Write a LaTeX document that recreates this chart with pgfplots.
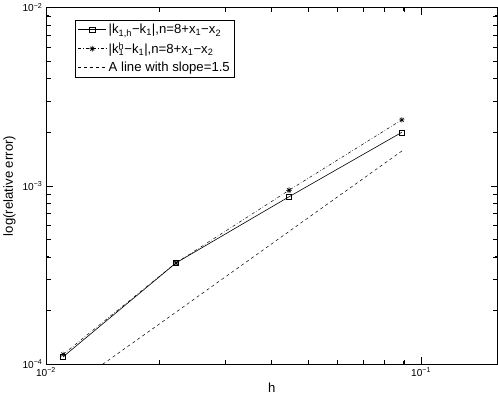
\documentclass[border=0pt]{standalone}
\usepackage{pgfplots}
\pgfplotsset{compat=1.18}
\usepackage{fontspec}
\setmainfont{Liberation Sans}
% MATLAB-like '*' marker: a plus and a cross
\pgfdeclareplotmark{mstar}{%
  \pgfpathmoveto{\pgfqpoint{-\pgfplotmarksize}{0pt}}\pgfpathlineto{\pgfqpoint{\pgfplotmarksize}{0pt}}%
  \pgfpathmoveto{\pgfqpoint{0pt}{-\pgfplotmarksize}}\pgfpathlineto{\pgfqpoint{0pt}{\pgfplotmarksize}}%
  \pgfpathmoveto{\pgfqpoint{-0.7\pgfplotmarksize}{-0.7\pgfplotmarksize}}\pgfpathlineto{\pgfqpoint{0.7\pgfplotmarksize}{0.7\pgfplotmarksize}}%
  \pgfpathmoveto{\pgfqpoint{-0.7\pgfplotmarksize}{0.7\pgfplotmarksize}}\pgfpathlineto{\pgfqpoint{0.7\pgfplotmarksize}{-0.7\pgfplotmarksize}}%
  \pgfusepathqstroke}
\begin{document}
\begin{tikzpicture}
\begin{axis}[
  width=446pt, height=352pt, scale only axis,
  xmode=log, ymode=log,
  xmin=0.01, xmax=0.16,
  ymin=1e-4, ymax=1e-2,
  xtick={0.01,0.1},
  xticklabels={10\textsuperscript{−2},10\textsuperscript{−1}},
  ytick={1e-4,1e-3,1e-2},
  yticklabels={10\textsuperscript{−4},10\textsuperscript{−3},10\textsuperscript{−2}},
  tick label style={font=\fontsize{10}{11}\selectfont},
  xlabel={h}, ylabel={log(relative error)},
  label style={font=\fontsize{13}{14}\selectfont},
  major tick length=7pt,
  tick style={draw=black, line width=0.8pt},
  axis line style={line width=0.7pt},
  legend style={at={(0.065,0.966)}, anchor=north west,
    font=\fontsize{13}{15}\selectfont, draw=black, line width=0.7pt,
    inner sep=2pt, row sep=3pt},
  legend cell align=left,
  legend image code/.code={%
    \draw[mark repeat=2, mark phase=2, #1]
      plot coordinates {(0pt,0pt) (14pt,0pt) (28pt,0pt)};},
]
\addplot[black, line width=0.6pt, mark=square, mark size=2.5pt, mark options={solid, line width=0.5pt}]
  coordinates {(0.01111,1.10e-4) (0.02222,3.70e-4) (0.04444,8.69e-4) (0.08889,2.00e-3)};
\addlegendentry{|k\textsubscript{1,h}−k\textsubscript{1}|,n=8+x\textsubscript{1}−x\textsubscript{2}}
\addplot[black, line width=0.5pt, dashdotted, mark=mstar, mark size=2.8pt, mark options={solid, line width=0.6pt}]
  coordinates {(0.01111,1.135e-4) (0.02222,3.70e-4) (0.04444,9.45e-4) (0.08889,2.35e-3)};
\addlegendentry{|k\makebox[0pt][l]{\textsuperscript{h}}\textsubscript{1}−k\textsubscript{1}|,n=8+x\textsubscript{1}−x\textsubscript{2}}
\addplot[black, line width=0.5pt, dashed]
  coordinates {(0.01111,6.94e-5) (0.02222,1.96e-4) (0.04444,5.55e-4) (0.08889,1.57e-3)};
\addlegendentry{A line with slope=1.5}
% tick marks drawn on all four sides, MATLAB style
\pgfplotsinvokeforeach{0.02,0.03,0.04,0.05,0.06,0.07,0.08,0.09}{
  \draw[line width=0.7pt] (axis cs:#1,1e-4) -- ++(0pt,4.5pt);
  \draw[line width=0.7pt] (axis cs:#1,1e-2) -- ++(0pt,-4.5pt);}
\pgfplotsinvokeforeach{0.01,0.1}{
  \draw[line width=0.7pt] (axis cs:#1,1e-4) -- ++(0pt,7pt);
  \draw[line width=0.7pt] (axis cs:#1,1e-2) -- ++(0pt,-7pt);}
\pgfplotsinvokeforeach{2e-4,3e-4,4e-4,5e-4,6e-4,7e-4,8e-4,9e-4,2e-3,3e-3,4e-3,5e-3,6e-3,7e-3,8e-3,9e-3}{
  \draw[line width=0.7pt] (axis cs:0.01,#1) -- ++(4.5pt,0pt);
  \draw[line width=0.7pt] (axis cs:0.16,#1) -- ++(-4.5pt,0pt);}
\pgfplotsinvokeforeach{1e-3}{
  \draw[line width=0.7pt] (axis cs:0.01,#1) -- ++(7pt,0pt);
  \draw[line width=0.7pt] (axis cs:0.16,#1) -- ++(-7pt,0pt);}
\end{axis}
\end{tikzpicture}
\end{document}
